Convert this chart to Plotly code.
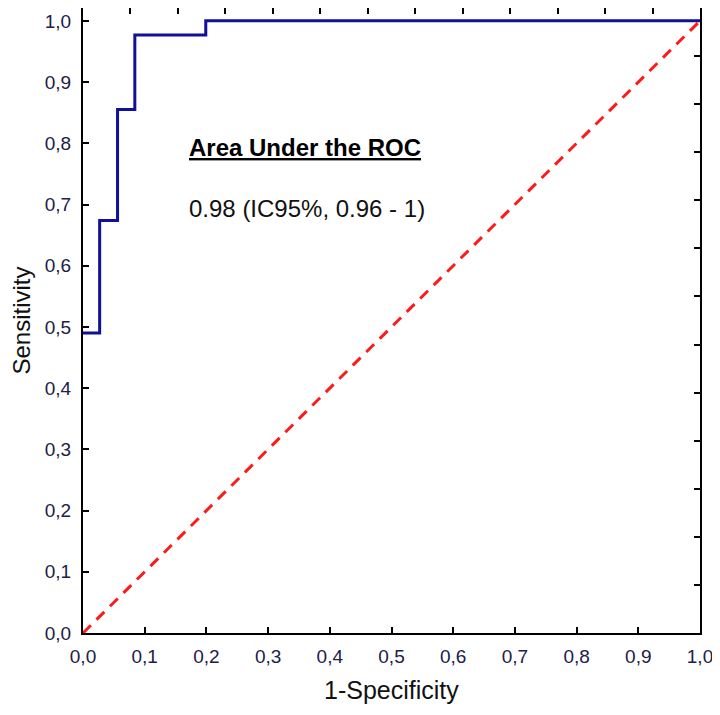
import plotly.graph_objects as go

# ROC curve (step) points
roc_fpr = [0.0, 0.027, 0.027, 0.056, 0.056, 0.084, 0.084, 0.199, 0.199, 1.0]
roc_tpr = [0.49, 0.49, 0.674, 0.674, 0.855, 0.855, 0.977, 0.977, 1.0, 1.0]
# reference diagonal
diag_x = [0.0, 1.0]
diag_y = [0.0, 1.0]

tick_vals = [0.0, 0.1, 0.2, 0.3, 0.4, 0.5, 0.6, 0.7, 0.8, 0.9, 1.0]
tick_text = ["0,0", "0,1", "0,2", "0,3", "0,4", "0,5", "0,6", "0,7", "0,8", "0,9", "1,0"]
y_max = 1.021
n_minor = 13
top_ticks = [k / n_minor for k in range(1, n_minor)]
right_ticks = [k / n_minor * y_max for k in range(1, n_minor)]

title_text = "<b><u>Area Under the ROC</u></b>"
auc_text = "0.98 (IC95%, 0.96 - 1)"
x_title = "1-Specificity"
y_title = "Sensitivity"

FONT = "Liberation Sans, Arial, sans-serif"

fig = go.Figure()
fig.add_trace(go.Scatter(x=diag_x, y=diag_y, mode="lines",
                         line=dict(color="#ff1a1a", width=3, dash="11px,8px"),
                         showlegend=False, hoverinfo="skip"))
fig.add_trace(go.Scatter(x=roc_fpr, y=roc_tpr, mode="lines",
                         line=dict(color="#10109a", width=3),
                         showlegend=False))
# invisible trace on the mirror axes
fig.add_trace(go.Scatter(x=[0.5], y=[0.5], xaxis="x2", yaxis="y2", mode="markers",
                         marker=dict(opacity=0), showlegend=False, hoverinfo="skip"))

font_tick = dict(family=FONT, size=19, color="#202048")
common = dict(ticks="inside", ticklen=6, tickcolor="black", tickwidth=1.5,
              showline=True, linecolor="black", linewidth=2, showgrid=False,
              zeroline=False, automargin=False)
fig.update_layout(
    width=712, height=699,
    margin=dict(l=75, r=20, t=0, b=74, autoexpand=False),
    paper_bgcolor="white", plot_bgcolor="white",
    xaxis=dict(range=[0, 1], tickvals=tick_vals, ticktext=tick_text,
               tickfont=font_tick, ticklabelstandoff=5, ticklabeloverflow="allow", **common),
    yaxis=dict(range=[0, y_max], tickvals=tick_vals, ticktext=tick_text,
               tickfont=font_tick, ticklabelstandoff=6, ticklabeloverflow="allow", **common),
    xaxis2=dict(overlaying="x", side="top", range=[0, 1], tickvals=top_ticks,
                showticklabels=False, **common),
    yaxis2=dict(overlaying="y", side="right", range=[0, y_max], tickvals=right_ticks,
                showticklabels=False, **common),
    annotations=[
        dict(x=0.168, y=0.793, xref="x", yref="y", text=title_text, showarrow=False,
             xanchor="left", yanchor="middle",
             font=dict(family=FONT, size=24, color="black")),
        dict(x=0.168, y=0.693, xref="x", yref="y", text=auc_text, showarrow=False,
             xanchor="left", yanchor="middle",
             font=dict(family=FONT, size=24, color="#111")),
        dict(x=0.5, y=0, xref="paper", yref="paper", text=x_title, showarrow=False,
             xanchor="center", yanchor="middle", yshift=-57,
             font=dict(family=FONT, size=25, color="#111")),
        dict(x=0, y=0.5, xref="paper", yref="paper", text=y_title, showarrow=False,
             xanchor="center", yanchor="middle", xshift=-62, textangle=-90,
             font=dict(family=FONT, size=24, color="#111")),
    ],
)

fig.write_html("out.html")
